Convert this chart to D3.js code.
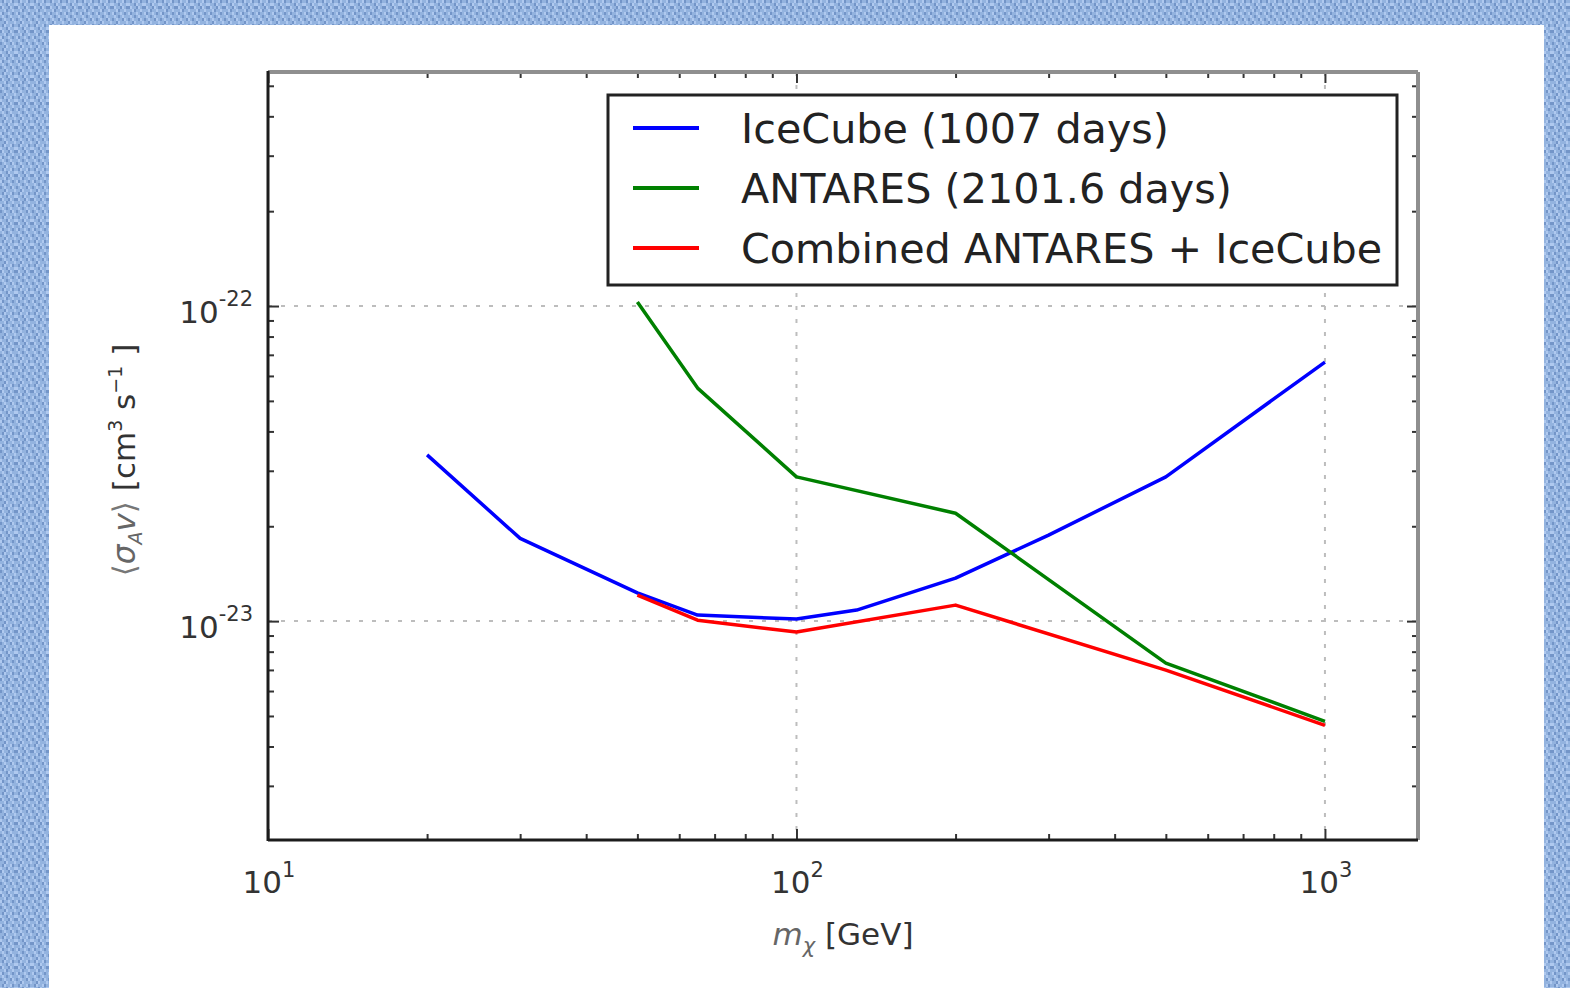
<!DOCTYPE html>
<html>
<head>
<meta charset="utf-8">
<script src="https://cdnjs.cloudflare.com/ajax/libs/d3/7.8.5/d3.min.js"></script>
<style>
html, body { margin: 0; padding: 0; background: #8fb0dc; }
svg { display: block; }
text { font-family: "DejaVu Sans", sans-serif; fill: #222; }
</style>
</head>
<body>
<div id="chart"></div>
<script>
// dark matter mass [GeV] and 90% CL limits on <sigma v> [cm^3 s^-1]
var iceMass = [20, 30, 50, 65, 100, 130, 200, 300, 500, 1000];
var iceLimit = [3.37e-23, 1.83e-23, 1.23e-23, 1.045e-23, 1.015e-23, 1.084e-23, 1.369e-23, 1.875e-23, 2.87e-23, 6.64e-23];
var antaresMass = [50, 65, 100, 200, 500, 1000];
var antaresLimit = [1.03e-22, 5.49e-23, 2.87e-23, 2.20e-23, 7.36e-24, 4.81e-24];
var combinedMass = [50, 65, 100, 200, 500, 1000];
var combinedLimit = [1.21e-23, 1.007e-23, 9.23e-24, 1.124e-23, 6.99e-24, 4.67e-24];

var seriesNames = ["IceCube (1007 days)", "ANTARES (2101.6 days)", "Combined ANTARES + IceCube"];
var seriesColors = ["#0000ff", "#008000", "#ff0000"];

var xTickExp = [1, 2, 3];
var yTickExp = [-23, -22];

var ch = ch || {};

ch.init = function () {
    var width = 1570, height = 988;
    var plot = {left: 268, right: 1418, top: 72, bottom: 840};

    var svg = d3.select("#chart").append("svg")
        .attr("width", width)
        .attr("height", height);

    ch.drawBackground(svg, width, height);

    var x = d3.scaleLog().domain([10, 1500]).range([plot.left, plot.right]);
    var y = d3.scaleLog().domain([2.02e-24, 5.53e-22]).range([plot.bottom, plot.top]);

    // dotted grid at the decades
    var grid = svg.append("g").attr("class", "grid");
    grid.selectAll(".gx")
        .data(xTickExp.slice(1))
        .enter().append("line")
        .attr("x1", (e) => x(Math.pow(10, e)))
        .attr("x2", (e) => x(Math.pow(10, e)))
        .attr("y1", plot.top).attr("y2", plot.bottom);
    grid.selectAll(".gy")
        .data(yTickExp)
        .enter().append("line")
        .attr("y1", (e) => y(Math.pow(10, e)))
        .attr("y2", (e) => y(Math.pow(10, e)))
        .attr("x1", plot.left).attr("x2", plot.right);
    grid.selectAll("line")
        .style("stroke", "#bdbdbd")
        .style("stroke-width", 2)
        .style("stroke-dasharray", "4,9");

    svg.append("clipPath").attr("id", "plotclip")
        .append("rect")
        .attr("x", plot.left).attr("y", plot.top)
        .attr("width", plot.right - plot.left)
        .attr("height", plot.bottom - plot.top);

    var series = [
        {mass: iceMass, limit: iceLimit},
        {mass: antaresMass, limit: antaresLimit},
        {mass: combinedMass, limit: combinedLimit}
    ];

    var line = d3.line()
        .x((d) => x(d[0]))
        .y((d) => y(d[1]));

    svg.append("g")
        .attr("clip-path", "url(#plotclip)")
        .selectAll("path")
        .data(series)
        .enter().append("path")
        .attr("d", (s) => line(d3.zip(s.mass, s.limit)))
        .style("fill", "none")
        .style("stroke", (s, i) => seriesColors[i])
        .style("stroke-width", 3.5)
        .style("stroke-linejoin", "round");

    ch.drawAxes(svg, x, y, plot);
    ch.drawLegend(svg);
};

ch.drawBackground = function (svg, width, height) {
    var defs = svg.append("defs");
    // hand drawn 8x8 weave, m = mid, d = dark, l = light
    var weave = [
        "mdlmmldm",
        "lmmdlmml",
        "dlmmdlmd",
        "mmldmmlm",
        "ldmmlmdm",
        "mlmdmlmm",
        "dmlmmdlm",
        "mmdlmmml"
    ];
    var shade = {m: "#93b3df", d: "#7395c8", l: "#afc9ef"};
    var cw = 2, chh = 3;
    var pat = defs.append("pattern")
        .attr("id", "cloth")
        .attr("patternUnits", "userSpaceOnUse")
        .attr("width", 8 * cw).attr("height", 8 * chh);
    var cells = [];
    weave.forEach(function (row, r) {
        row.split("").forEach(function (c, k) {
            cells.push({r: r, k: k, c: c});
        });
    });
    pat.selectAll("rect").data(cells).enter().append("rect")
        .attr("x", (d) => d.k * cw).attr("y", (d) => d.r * chh)
        .attr("width", cw).attr("height", chh)
        .style("fill", (d) => shade[d.c]);

    svg.append("rect")
        .attr("width", width).attr("height", height)
        .style("fill", "url(#cloth)");
    svg.append("rect")
        .attr("x", 49).attr("y", 25)
        .attr("width", 1544 - 49).attr("height", height - 25)
        .style("fill", "#ffffff");
};

ch.drawAxes = function (svg, x, y, plot) {
    var isMajor = (v) => Math.abs(Math.log10(v) - Math.round(Math.log10(v))) < 1e-6;
    var xMinor = x.ticks().filter((v) => !isMajor(v));
    var yMinor = y.ticks().filter((v) => !isMajor(v));
    var xMajor = xTickExp.map((e) => Math.pow(10, e));
    var yMajor = yTickExp.map((e) => Math.pow(10, e));

    function tickGroup(axisFn, scale, values, size, transform) {
        var g = svg.append("g")
            .attr("transform", transform)
            .call(axisFn(scale).tickValues(values).tickSize(size).tickFormat(""));
        g.select(".domain").remove();
        g.selectAll("line").style("stroke", "#333").style("stroke-width", 2);
    }

    // ticks point inwards on all four sides
    tickGroup(d3.axisBottom, x, xMajor, -11, "translate(0," + plot.bottom + ")");
    tickGroup(d3.axisBottom, x, xMinor, -6, "translate(0," + plot.bottom + ")");
    tickGroup(d3.axisTop, x, xMajor, -11, "translate(0," + plot.top + ")");
    tickGroup(d3.axisTop, x, xMinor, -6, "translate(0," + plot.top + ")");
    tickGroup(d3.axisLeft, y, yMajor, -11, "translate(" + plot.left + ",0)");
    tickGroup(d3.axisLeft, y, yMinor, -6, "translate(" + plot.left + ",0)");
    tickGroup(d3.axisRight, y, yMajor, -11, "translate(" + plot.right + ",0)");
    tickGroup(d3.axisRight, y, yMinor, -6, "translate(" + plot.right + ",0)");

    // frame
    var frame = svg.append("g");
    frame.append("line")
        .attr("x1", plot.left).attr("x2", plot.right)
        .attr("y1", plot.top).attr("y2", plot.top)
        .style("stroke", "#8f8f8f").style("stroke-width", 4);
    frame.append("line")
        .attr("x1", plot.right).attr("x2", plot.right)
        .attr("y1", plot.top).attr("y2", plot.bottom)
        .style("stroke", "#8f8f8f").style("stroke-width", 4);
    frame.append("line")
        .attr("x1", plot.left).attr("x2", plot.right)
        .attr("y1", plot.bottom).attr("y2", plot.bottom)
        .style("stroke", "#1c1c1c").style("stroke-width", 3);
    frame.append("line")
        .attr("x1", plot.left).attr("x2", plot.left)
        .attr("y1", plot.top - 1).attr("y2", plot.bottom + 1)
        .style("stroke", "#1c1c1c").style("stroke-width", 3);

    // tick labels as 10^n
    var xl = svg.selectAll(".xlab")
        .data(xTickExp)
        .enter().append("text")
        .attr("class", "xlab")
        .attr("x", (e) => x(Math.pow(10, e)) + 1)
        .attr("y", plot.bottom + 53)
        .attr("text-anchor", "middle")
        .style("font-size", "31px")
        .style("fill", "#333");
    xl.append("tspan").text("10");
    xl.append("tspan").attr("dy", -16).style("font-size", "21px").text((e) => e);

    var yl = svg.selectAll(".ylab")
        .data(yTickExp)
        .enter().append("text")
        .attr("class", "ylab")
        .attr("x", plot.left - 15)
        .attr("y", (e) => y(Math.pow(10, e)) + 17)
        .attr("text-anchor", "end")
        .style("font-size", "31px")
        .style("fill", "#333");
    yl.append("tspan").text("10");
    yl.append("tspan").attr("dy", -17).style("font-size", "21px").text((e) => e);

    // axis titles
    var xt = svg.append("text")
        .attr("x", (plot.left + plot.right) / 2)
        .attr("y", 945)
        .attr("text-anchor", "middle")
        .style("font-size", "31px")
        .style("fill", "#333");
    xt.append("tspan").style("font-style", "italic").style("fill", "#666").text("m");
    xt.append("tspan").attr("dy", 8).style("font-style", "italic").style("font-size", "21px").style("fill", "#666").text("χ");
    xt.append("tspan").attr("dy", -8).text(" [GeV]");

    var yt = svg.append("text")
        .attr("transform", "translate(135,460) rotate(-90)")
        .attr("text-anchor", "middle")
        .style("font-size", "31px")
        .style("fill", "#333");
    yt.append("tspan").style("fill", "#777").text("⟨");
    yt.append("tspan").style("font-style", "italic").style("fill", "#666").text("σ");
    yt.append("tspan").attr("dy", 7).style("font-style", "italic").style("font-size", "19px").style("fill", "#666").text("A");
    yt.append("tspan").attr("dy", -7).style("font-style", "italic").style("fill", "#666").text("v");
    yt.append("tspan").style("fill", "#777").text("⟩");
    yt.append("tspan").text(" [cm");
    yt.append("tspan").attr("dy", -13).style("font-size", "19px").text("3");
    yt.append("tspan").attr("dy", 13).text(" s");
    yt.append("tspan").attr("dy", -13).style("font-size", "19px").text("−1");
    yt.append("tspan").attr("dy", 13).text(" ]");
};

ch.drawLegend = function (svg) {
    var box = {x: 608, y: 95, w: 789, h: 190};
    var lg = svg.append("g").attr("class", "legend");
    lg.append("rect")
        .attr("x", box.x).attr("y", box.y)
        .attr("width", box.w).attr("height", box.h)
        .style("fill", "#ffffff")
        .style("stroke", "#222")
        .style("stroke-width", 3);

    var rows = lg.selectAll(".row")
        .data(seriesNames)
        .enter().append("g")
        .attr("transform", (d, i) => "translate(0," + (143 + i * 60) + ")");
    rows.append("line")
        .attr("x1", 633).attr("x2", 699)
        .attr("y1", -15).attr("y2", -15)
        .style("stroke", (d, i) => seriesColors[i])
        .style("stroke-width", 4);
    rows.append("text")
        .attr("x", 741).attr("y", 0)
        .style("font-size", "41.3px")
        .style("fill", "#222")
        .text((d) => d);
};

ch.init();
</script>
</body>
</html>
